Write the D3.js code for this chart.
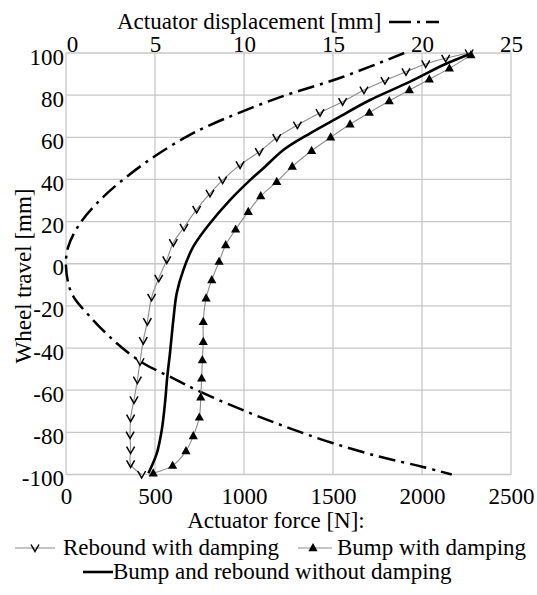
<!doctype html>
<html>
<head>
<meta charset="utf-8">
<style>
  body { margin: 0; background: #fff; }
  svg { display: block; font-family: "Liberation Serif", "Times New Roman", serif; }
  .grid line { stroke: #c8c8c8; stroke-width: 1.3; }
  .tick text, .lbl { font-size: 23px; fill: #000; }
</style>
<script src="https://cdn.jsdelivr.net/npm/d3@7"></script>
</head>
<body>
<svg id="chart" width="537" height="595"></svg>
<script>
// --- data ---
const forceTicks = [0, 500, 1000, 1500, 2000, 2500];
const dispTicks = [0, 5, 10, 15, 20, 25];
const travelTicks = [-100, -80, -60, -40, -20, 0, 20, 40, 60, 80, 100];

// rebound with damping (force N, wheel travel mm)
const reboundForce = [2265, 2133, 2021, 1910, 1792, 1674, 1554, 1427, 1300, 1184, 1086, 978, 880, 809, 734, 663, 603, 566, 521, 481, 457, 434, 416, 401, 382, 363, 360, 363, 363, 425];
const reboundTravel = [100, 97.5, 94.8, 91.1, 86.9, 82.4, 76.9, 71.7, 65.8, 59.8, 53.2, 46.9, 39.7, 33.4, 25.8, 17.3, 10, 1.8, -6.9, -15.9, -27.5, -36.5, -46.5, -55.2, -64.6, -73.3, -81.3, -88.4, -95, -100];

// bump with damping
const bumpForce = [2275, 2154, 2041, 1929, 1816, 1704, 1596, 1487, 1380, 1271, 1184, 1094, 1024, 953, 897, 860, 819, 787, 771, 771, 766, 762, 757, 749, 715, 674, 599, 490];
const bumpTravel = [99, 92.7, 87.5, 82.4, 77.2, 71.7, 66.2, 60, 53.6, 46.1, 38.9, 32.1, 24.7, 16.3, 8.9, 1, -7.7, -16.4, -27.5, -37, -45.7, -54.4, -63.4, -72.9, -81.7, -88.9, -95.8, -99.4];

// bump and rebound without damping
const plainForce = [2270, 2120, 1933, 1708, 1521, 1371, 1221, 1109, 1034, 921, 809, 715, 659, 622, 603, 584, 569, 556, 538, 510, 463];
const plainTravel = [99.5, 94.3, 86.4, 77.7, 69, 61.9, 54, 45.3, 39.7, 30.2, 19.2, 8.1, -3, -14, -26.7, -42.5, -53.6, -66.2, -78.9, -90, -99.4];

// actuator displacement (mm) vs wheel travel
const dispValue = [19.0, 15.5, 11.84, 8.09, 6.78, 5.09, 3.41, 1.91, 0.79, 0.13, 0, 0.32, 1.35, 2.85, 4.34, 5.84, 7.53, 10.15, 12.58, 15.02, 17.64, 20.0, 21.67];
const dispTravel = [100, 88.5, 78.5, 65.8, 60.3, 51.6, 41.3, 30.2, 19.2, 8.1, -1.4, -14, -25.1, -37.7, -47.2, -53.6, -60.7, -70.2, -78.1, -85.2, -91.6, -96.3, -100];

// --- layout ---
const svg = d3.select("#chart");
const plotLeft = 66, plotRight = 511, plotTop = 53, plotBottom = 474.5;

const x = d3.scaleLinear().domain([0, 2500]).range([plotLeft, plotRight]);
const xd = d3.scaleLinear().domain([0, 25]).range([plotLeft, plotRight]);
const y = d3.scaleLinear().domain([-100, 100]).range([plotBottom, plotTop]);

// grid
const grid = svg.append("g").attr("class", "grid");
grid.selectAll(".gx").data(forceTicks).join("line")
  .attr("x1", d => x(d)).attr("x2", d => x(d)).attr("y1", plotTop).attr("y2", plotBottom);
grid.selectAll(".gy").data(travelTicks).join("line")
  .attr("x1", plotLeft).attr("x2", plotRight).attr("y1", d => y(d)).attr("y2", d => y(d));

// axes: labels only, plain hyphen minus, serif font
const fmt = d => String(d);
function bare(g) {
  g.attr("font-family", null).attr("font-size", null);
  g.select(".domain").remove();
  g.selectAll(".tick line").remove();
}

svg.append("g").attr("transform", `translate(0,${plotBottom})`)
  .call(d3.axisBottom(x).tickValues(forceTicks).tickFormat(fmt).tickSize(0).tickPadding(0))
  .call(bare)
  .call(g => g.selectAll("text").attr("dy", null).attr("y", 29));

svg.append("g").attr("transform", `translate(0,${plotTop})`)
  .call(d3.axisTop(xd).tickValues(dispTicks).tickFormat(fmt).tickSize(0).tickPadding(0))
  .call(bare)
  .call(g => g.selectAll("text").attr("dy", null).attr("y", -1).attr("dx", d => d === 0 ? 6 : 0));

svg.append("g").attr("transform", `translate(${plotLeft - 2},0)`)
  .call(d3.axisLeft(y).tickValues(travelTicks).tickFormat(fmt).tickSize(0).tickPadding(0))
  .call(bare)
  .call(g => g.selectAll("text").attr("dy", null).attr("y", 11));

// axis titles
svg.append("text").attr("class", "lbl").attr("x", 117).attr("y", 29).text("Actuator displacement [mm]");
svg.append("path")
  .attr("d", d3.line()([[389, 22], [439, 22]]))
  .attr("stroke", "#000").attr("stroke-width", 2.5).attr("stroke-dasharray", "22,6,3,6");
svg.append("text").attr("class", "lbl").attr("text-anchor", "middle")
  .attr("x", 276).attr("y", 528).text("Actuator force [N]:");
svg.append("text").attr("class", "lbl").attr("text-anchor", "middle")
  .attr("transform", "translate(31,276) rotate(-90)").text("Wheel travel [mm]");

// series
const curve = d3.curveCatmullRom.alpha(0.5);
const lineF = d3.line().x(d => x(d[0])).y(d => y(d[1])).curve(curve);
const lineD = d3.line().x(d => xd(d[0])).y(d => y(d[1])).curve(curve);

const rebound = d3.zip(reboundForce, reboundTravel);
const bump = d3.zip(bumpForce, bumpTravel);
const plain = d3.zip(plainForce, plainTravel);
const disp = d3.zip(dispValue, dispTravel);

svg.append("path").attr("d", lineD(disp)).attr("fill", "none")
  .attr("stroke", "#000").attr("stroke-width", 2.5).attr("stroke-dasharray", "17,6,3,6");

svg.append("path").attr("d", lineF(rebound)).attr("fill", "none")
  .attr("stroke", "#8c8c8c").attr("stroke-width", 1.1);
svg.append("path").attr("d", lineF(bump)).attr("fill", "none")
  .attr("stroke", "#8c8c8c").attr("stroke-width", 1.1);
svg.append("path").attr("d", lineF(plain)).attr("fill", "none")
  .attr("stroke", "#000").attr("stroke-width", 2.6);

const vMark = "M-4,-3.5L0,3.5L4,-3.5";
const triMark = "M0,-5L4.6,3.2L-4.6,3.2Z";

svg.append("g").selectAll("path").data(rebound).join("path")
  .attr("transform", d => `translate(${x(d[0])},${y(d[1])})`)
  .attr("d", vMark).attr("fill", "none").attr("stroke", "#000").attr("stroke-width", 1.5);
svg.append("g").selectAll("path").data(bump).join("path")
  .attr("transform", d => `translate(${x(d[0])},${y(d[1])})`)
  .attr("d", triMark).attr("fill", "#000");

// legend
const leg = svg.append("g");
leg.append("line").attr("x1", 15).attr("x2", 55).attr("y1", 548).attr("y2", 548)
  .attr("stroke", "#8c8c8c").attr("stroke-width", 1.1);
leg.append("path").attr("transform", "translate(35,548)").attr("d", vMark)
  .attr("fill", "none").attr("stroke", "#000").attr("stroke-width", 1.5);
leg.append("text").attr("class", "lbl").attr("x", 63).attr("y", 555).text("Rebound with damping");

leg.append("line").attr("x1", 298).attr("x2", 332).attr("y1", 548).attr("y2", 548)
  .attr("stroke", "#8c8c8c").attr("stroke-width", 1.1);
leg.append("path").attr("transform", "translate(313,548)").attr("d", triMark).attr("fill", "#000");
leg.append("text").attr("class", "lbl").attr("x", 337).attr("y", 555).text("Bump with damping");

leg.append("line").attr("x1", 83).attr("x2", 113).attr("y1", 572).attr("y2", 572)
  .attr("stroke", "#000").attr("stroke-width", 2.6);
leg.append("text").attr("class", "lbl").attr("x", 113).attr("y", 579).text("Bump and rebound without damping");
</script>
</body>
</html>
